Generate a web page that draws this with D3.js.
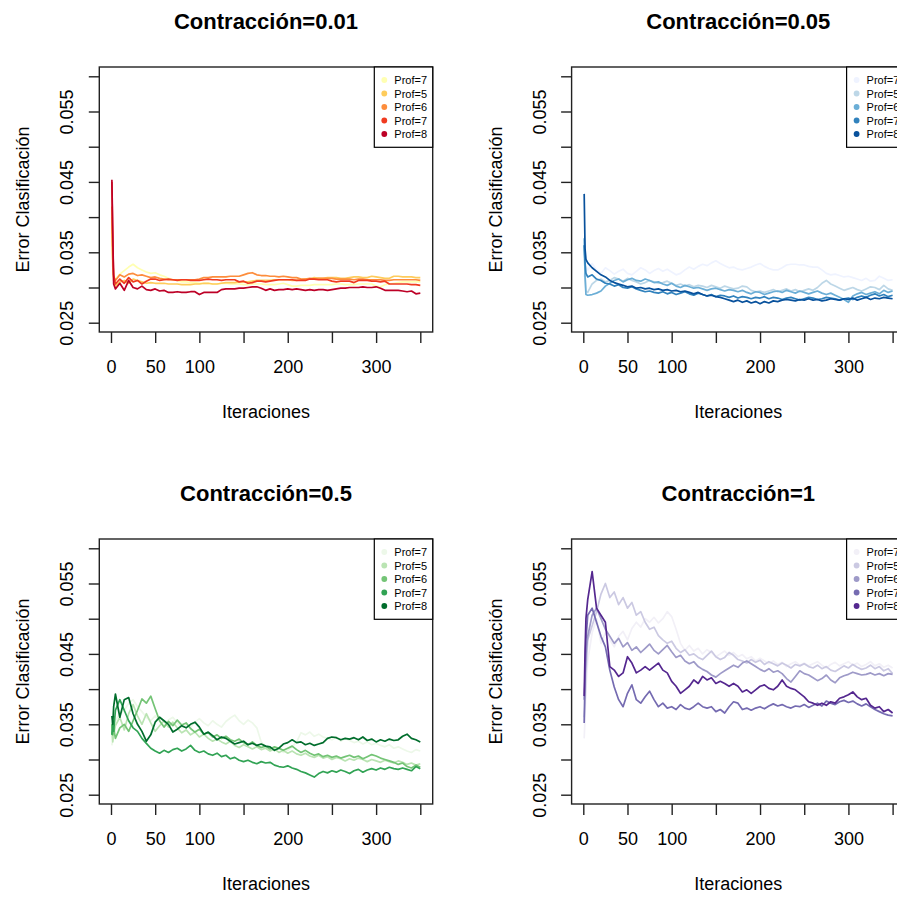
<!DOCTYPE html>
<html>
<head>
<meta charset="utf-8">
<script src="https://cdn.jsdelivr.net/npm/d3@7"></script>
<style>
  body { margin: 0; background: #fff; }
  svg { display: block; }
  text { font-family: "Liberation Sans", Arial, Helvetica, sans-serif; fill: #000; }
</style>
</head>
<body>
<svg id="chart" width="897" height="897"></svg>
<script>
// Iterations at which the classification error was recorded
const iteraciones = [
  1, 2, 3, 5, 10, 15, 20, 25, 30, 35,
  40, 45, 50, 55, 60, 65, 70, 75, 80, 85,
  90, 95, 100, 105, 110, 115, 120, 125, 130, 135,
  140, 145, 150, 155, 160, 165, 170, 175, 180, 185,
  190, 195, 200, 205, 210, 215, 220, 225, 230, 235,
  240, 245, 250, 255, 260, 265, 270, 275, 280, 285,
  290, 295, 300, 305, 310, 315, 320, 325, 330, 335,
  340, 345, 350
];

const legendLabels = ["Prof=7", "Prof=5", "Prof=6", "Prof=7", "Prof=8"];
const panelTitles = ["Contracción=0.01", "Contracción=0.05", "Contracción=0.5", "Contracción=1"];

// Contracción = 0.01
const error001 = [
  [0.0385,0.0340,0.0315,0.0312,0.0319,0.0324,0.0329,0.0333,0.0328,0.0325,
   0.0322,0.0320,0.0321,0.0318,0.0316,0.0313,0.0311,0.0310,0.0308,0.0308,
   0.0307,0.0307,0.0306,0.0306,0.0306,0.0305,0.0305,0.0306,0.0306,0.0305,
   0.0305,0.0305,0.0304,0.0304,0.0305,0.0305,0.0305,0.0304,0.0304,0.0304,
   0.0305,0.0306,0.0304,0.0302,0.0302,0.0303,0.0303,0.0303,0.0304,0.0304,
   0.0304,0.0304,0.0304,0.0305,0.0305,0.0304,0.0304,0.0304,0.0305,0.0305,
   0.0305,0.0305,0.0302,0.0301,0.0304,0.0305,0.0306,0.0307,0.0308,0.0308,
   0.0308,0.0308,0.0308],
  [0.0400,0.0330,0.0310,0.0302,0.0308,0.0310,0.0306,0.0312,0.0310,0.0308,
   0.0306,0.0307,0.0306,0.0306,0.0306,0.0305,0.0305,0.0305,0.0304,0.0304,
   0.0304,0.0305,0.0305,0.0306,0.0306,0.0305,0.0305,0.0306,0.0307,0.0307,
   0.0307,0.0308,0.0308,0.0308,0.0309,0.0310,0.0310,0.0310,0.0310,0.0311,
   0.0311,0.0311,0.0311,0.0310,0.0310,0.0311,0.0312,0.0312,0.0314,0.0313,
   0.0313,0.0314,0.0314,0.0314,0.0313,0.0313,0.0314,0.0315,0.0315,0.0314,
   0.0314,0.0316,0.0315,0.0314,0.0313,0.0313,0.0316,0.0316,0.0315,0.0315,
   0.0315,0.0314,0.0314],
  [0.0415,0.0340,0.0315,0.0310,0.0318,0.0315,0.0319,0.0320,0.0317,0.0318,
   0.0316,0.0314,0.0315,0.0313,0.0312,0.0311,0.0311,0.0311,0.0311,0.0311,
   0.0311,0.0311,0.0312,0.0314,0.0314,0.0315,0.0315,0.0315,0.0315,0.0316,
   0.0316,0.0316,0.0318,0.0320,0.0321,0.0318,0.0317,0.0317,0.0316,0.0316,
   0.0315,0.0316,0.0315,0.0314,0.0314,0.0312,0.0312,0.0313,0.0312,0.0313,
   0.0313,0.0313,0.0313,0.0312,0.0312,0.0312,0.0312,0.0311,0.0312,0.0312,
   0.0311,0.0311,0.0311,0.0311,0.0310,0.0310,0.0311,0.0311,0.0311,0.0311,
   0.0311,0.0311,0.0310],
  [0.0450,0.0360,0.0318,0.0305,0.0312,0.0306,0.0314,0.0308,0.0310,0.0305,
   0.0309,0.0312,0.0312,0.0310,0.0311,0.0312,0.0311,0.0310,0.0311,0.0311,
   0.0310,0.0310,0.0310,0.0311,0.0312,0.0311,0.0311,0.0310,0.0311,0.0311,
   0.0311,0.0308,0.0309,0.0306,0.0307,0.0309,0.0309,0.0308,0.0309,0.0310,
   0.0311,0.0311,0.0311,0.0311,0.0310,0.0310,0.0310,0.0312,0.0312,0.0311,
   0.0311,0.0311,0.0309,0.0308,0.0309,0.0309,0.0309,0.0307,0.0310,0.0310,
   0.0310,0.0309,0.0309,0.0308,0.0309,0.0305,0.0305,0.0305,0.0305,0.0305,
   0.0304,0.0304,0.0303],
  [0.0453,0.0380,0.0305,0.0298,0.0306,0.0296,0.0310,0.0300,0.0298,0.0302,
   0.0297,0.0296,0.0298,0.0295,0.0296,0.0293,0.0293,0.0294,0.0293,0.0293,
   0.0294,0.0294,0.0290,0.0293,0.0293,0.0293,0.0293,0.0297,0.0298,0.0298,
   0.0298,0.0299,0.0299,0.0300,0.0301,0.0301,0.0299,0.0296,0.0298,0.0296,
   0.0297,0.0297,0.0298,0.0297,0.0298,0.0297,0.0296,0.0297,0.0296,0.0297,
   0.0297,0.0296,0.0297,0.0298,0.0299,0.0299,0.0300,0.0300,0.0300,0.0301,
   0.0300,0.0300,0.0301,0.0299,0.0296,0.0296,0.0296,0.0296,0.0295,0.0294,
   0.0295,0.0291,0.0292]
];

// Contracción = 0.05
const error005 = [
  [0.0315,0.0325,0.0330,0.0325,0.0334,0.0325,0.0320,0.0328,0.0324,0.0319,
   0.0323,0.0326,0.0320,0.0318,0.0323,0.0328,0.0325,0.0320,0.0324,0.0327,
   0.0323,0.0326,0.0322,0.0318,0.0320,0.0325,0.0329,0.0326,0.0330,0.0333,
   0.0331,0.0335,0.0338,0.0334,0.0331,0.0328,0.0329,0.0326,0.0325,0.0327,
   0.0329,0.0332,0.0334,0.0330,0.0327,0.0325,0.0325,0.0328,0.0332,0.0333,
   0.0333,0.0332,0.0332,0.0330,0.0329,0.0329,0.0325,0.0320,0.0318,0.0319,
   0.0317,0.0315,0.0316,0.0314,0.0312,0.0310,0.0313,0.0309,0.0310,0.0316,
   0.0313,0.0310,0.0311],
  [0.0360,0.0320,0.0295,0.0293,0.0305,0.0310,0.0312,0.0308,0.0310,0.0314,
   0.0312,0.0309,0.0313,0.0310,0.0308,0.0305,0.0307,0.0310,0.0308,0.0306,
   0.0307,0.0309,0.0306,0.0303,0.0305,0.0302,0.0304,0.0301,0.0303,0.0302,
   0.0300,0.0303,0.0301,0.0299,0.0302,0.0300,0.0298,0.0299,0.0302,0.0301,
   0.0296,0.0294,0.0295,0.0293,0.0295,0.0297,0.0294,0.0296,0.0298,0.0295,
   0.0297,0.0294,0.0296,0.0298,0.0296,0.0300,0.0306,0.0310,0.0305,0.0302,
   0.0299,0.0296,0.0298,0.0300,0.0297,0.0295,0.0298,0.0301,0.0300,0.0297,
   0.0303,0.0298,0.0296],
  [0.0370,0.0315,0.0290,0.0289,0.0290,0.0292,0.0295,0.0302,0.0306,0.0310,
   0.0312,0.0308,0.0311,0.0313,0.0310,0.0309,0.0312,0.0310,0.0307,0.0308,
   0.0305,0.0303,0.0306,0.0302,0.0300,0.0303,0.0301,0.0299,0.0300,0.0298,
   0.0296,0.0298,0.0299,0.0297,0.0295,0.0297,0.0296,0.0294,0.0296,0.0293,
   0.0291,0.0294,0.0293,0.0290,0.0292,0.0294,0.0295,0.0293,0.0296,0.0294,
   0.0292,0.0295,0.0293,0.0291,0.0293,0.0295,0.0292,0.0290,0.0292,0.0289,
   0.0286,0.0283,0.0279,0.0288,0.0291,0.0293,0.0290,0.0292,0.0294,0.0291,
   0.0296,0.0293,0.0295],
  [0.0360,0.0335,0.0320,0.0315,0.0318,0.0312,0.0310,0.0306,0.0305,0.0302,
   0.0304,0.0300,0.0299,0.0301,0.0298,0.0296,0.0294,0.0295,0.0293,0.0292,
   0.0294,0.0291,0.0293,0.0290,0.0292,0.0294,0.0291,0.0289,0.0292,0.0290,
   0.0288,0.0290,0.0287,0.0289,0.0288,0.0286,0.0288,0.0285,0.0287,0.0286,
   0.0284,0.0286,0.0285,0.0287,0.0284,0.0286,0.0285,0.0283,0.0285,0.0286,
   0.0284,0.0282,0.0284,0.0286,0.0285,0.0283,0.0284,0.0286,0.0285,0.0284,
   0.0282,0.0284,0.0285,0.0283,0.0286,0.0288,0.0286,0.0289,0.0291,0.0288,
   0.0290,0.0287,0.0289],
  [0.0433,0.0355,0.0340,0.0335,0.0328,0.0323,0.0318,0.0315,0.0310,0.0307,
   0.0305,0.0303,0.0301,0.0302,0.0299,0.0300,0.0298,0.0299,0.0297,0.0298,
   0.0296,0.0297,0.0295,0.0296,0.0294,0.0295,0.0293,0.0291,0.0293,0.0290,
   0.0288,0.0289,0.0287,0.0286,0.0284,0.0282,0.0280,0.0282,0.0279,0.0281,
   0.0278,0.0280,0.0277,0.0280,0.0278,0.0281,0.0280,0.0282,0.0283,0.0282,
   0.0281,0.0283,0.0282,0.0284,0.0282,0.0283,0.0281,0.0282,0.0284,0.0283,
   0.0282,0.0284,0.0283,0.0285,0.0282,0.0284,0.0286,0.0283,0.0285,0.0284,
   0.0286,0.0285,0.0284]
];

// Contracción = 0.5
const error05 = [
  [0.0320,0.0330,0.0345,0.0355,0.0365,0.0370,0.0380,0.0385,0.0375,0.0368,
   0.0360,0.0355,0.0362,0.0354,0.0348,0.0356,0.0360,0.0352,0.0345,0.0350,
   0.0346,0.0353,0.0358,0.0352,0.0348,0.0355,0.0350,0.0346,0.0354,0.0359,
   0.0363,0.0355,0.0350,0.0356,0.0352,0.0345,0.0325,0.0318,0.0315,0.0312,
   0.0316,0.0310,0.0313,0.0318,0.0325,0.0338,0.0335,0.0339,0.0333,0.0336,
   0.0332,0.0330,0.0328,0.0332,0.0326,0.0330,0.0327,0.0324,0.0326,0.0322,
   0.0325,0.0321,0.0323,0.0320,0.0318,0.0321,0.0316,0.0318,0.0315,0.0312,
   0.0310,0.0314,0.0312],
  [0.0340,0.0325,0.0335,0.0348,0.0360,0.0342,0.0365,0.0378,0.0362,0.0350,
   0.0365,0.0352,0.0340,0.0348,0.0355,0.0346,0.0353,0.0345,0.0338,0.0342,
   0.0335,0.0339,0.0332,0.0336,0.0330,0.0326,0.0329,0.0325,0.0322,0.0326,
   0.0320,0.0317,0.0321,0.0318,0.0315,0.0318,0.0314,0.0316,0.0312,0.0315,
   0.0310,0.0313,0.0309,0.0312,0.0308,0.0306,0.0309,0.0305,0.0303,0.0306,
   0.0302,0.0304,0.0300,0.0303,0.0301,0.0298,0.0301,0.0299,0.0302,0.0300,
   0.0297,0.0300,0.0298,0.0296,0.0299,0.0297,0.0295,0.0298,0.0296,0.0293,
   0.0295,0.0292,0.0294],
  [0.0350,0.0335,0.0345,0.0330,0.0345,0.0350,0.0340,0.0355,0.0370,0.0386,
   0.0380,0.0390,0.0372,0.0355,0.0346,0.0354,0.0348,0.0356,0.0349,0.0352,
   0.0344,0.0339,0.0343,0.0336,0.0338,0.0332,0.0335,0.0330,0.0333,0.0328,
   0.0326,0.0329,0.0324,0.0321,0.0325,0.0320,0.0317,0.0319,0.0315,0.0318,
   0.0316,0.0313,0.0316,0.0319,0.0314,0.0310,0.0313,0.0309,0.0306,0.0308,
   0.0304,0.0306,0.0303,0.0305,0.0302,0.0304,0.0306,0.0303,0.0305,0.0301,
   0.0304,0.0307,0.0305,0.0302,0.0300,0.0298,0.0296,0.0293,0.0295,0.0290,
   0.0288,0.0292,0.0289],
  [0.0335,0.0355,0.0340,0.0370,0.0385,0.0370,0.0355,0.0345,0.0340,0.0330,
   0.0323,0.0316,0.0312,0.0309,0.0313,0.0310,0.0314,0.0316,0.0312,0.0315,
   0.0320,0.0313,0.0310,0.0312,0.0308,0.0306,0.0309,0.0304,0.0306,0.0301,
   0.0303,0.0299,0.0297,0.0299,0.0296,0.0294,0.0297,0.0295,0.0296,0.0292,
   0.0290,0.0289,0.0291,0.0288,0.0286,0.0283,0.0281,0.0278,0.0275,0.0280,
   0.0283,0.0281,0.0284,0.0282,0.0285,0.0283,0.0280,0.0284,0.0286,0.0282,
   0.0285,0.0287,0.0285,0.0288,0.0286,0.0289,0.0287,0.0286,0.0288,0.0286,
   0.0284,0.0290,0.0287],
  [0.0362,0.0350,0.0375,0.0393,0.0360,0.0385,0.0388,0.0365,0.0350,0.0340,
   0.0326,0.0335,0.0353,0.0360,0.0355,0.0350,0.0339,0.0343,0.0348,0.0345,
   0.0350,0.0353,0.0346,0.0336,0.0339,0.0334,0.0328,0.0332,0.0330,0.0326,
   0.0322,0.0324,0.0326,0.0321,0.0323,0.0320,0.0322,0.0319,0.0318,0.0313,
   0.0316,0.0322,0.0324,0.0328,0.0324,0.0325,0.0321,0.0323,0.0320,0.0322,
   0.0324,0.0330,0.0332,0.0331,0.0328,0.0330,0.0329,0.0331,0.0328,0.0332,
   0.0327,0.0329,0.0325,0.0328,0.0326,0.0329,0.0327,0.0328,0.0333,0.0336,
   0.0330,0.0328,0.0325]
];

// Contracción = 1
const error1 = [
  [0.0330,0.0360,0.0400,0.0440,0.0480,0.0500,0.0465,0.0480,0.0470,0.0460,
   0.0475,0.0482,0.0470,0.0486,0.0495,0.0488,0.0500,0.0495,0.0502,0.0494,
   0.0500,0.0510,0.0503,0.0485,0.0465,0.0455,0.0462,0.0454,0.0458,0.0450,
   0.0456,0.0452,0.0446,0.0450,0.0454,0.0448,0.0452,0.0446,0.0449,0.0443,
   0.0446,0.0440,0.0444,0.0440,0.0436,0.0440,0.0435,0.0438,0.0432,0.0436,
   0.0439,0.0434,0.0437,0.0433,0.0436,0.0439,0.0434,0.0430,0.0435,0.0438,
   0.0433,0.0436,0.0439,0.0434,0.0437,0.0432,0.0435,0.0439,0.0433,0.0436,
   0.0431,0.0434,0.0430],
  [0.0360,0.0380,0.0420,0.0470,0.0490,0.0510,0.0535,0.0550,0.0530,0.0538,
   0.0520,0.0530,0.0515,0.0523,0.0505,0.0510,0.0495,0.0485,0.0488,0.0476,
   0.0470,0.0465,0.0468,0.0458,0.0452,0.0456,0.0448,0.0450,0.0445,0.0442,
   0.0448,0.0454,0.0446,0.0442,0.0445,0.0452,0.0448,0.0442,0.0440,0.0437,
   0.0442,0.0438,0.0441,0.0435,0.0439,0.0436,0.0433,0.0437,0.0434,0.0430,
   0.0435,0.0433,0.0436,0.0432,0.0430,0.0434,0.0429,0.0432,0.0427,0.0425,
   0.0429,0.0433,0.0430,0.0435,0.0431,0.0428,0.0430,0.0434,0.0429,0.0432,
   0.0426,0.0429,0.0422],
  [0.0385,0.0420,0.0450,0.0475,0.0505,0.0515,0.0500,0.0485,0.0475,0.0465,
   0.0472,0.0460,0.0466,0.0455,0.0460,0.0452,0.0458,0.0464,0.0455,0.0450,
   0.0456,0.0462,0.0453,0.0445,0.0448,0.0440,0.0436,0.0439,0.0432,0.0428,
   0.0425,0.0420,0.0417,0.0422,0.0426,0.0430,0.0434,0.0431,0.0437,0.0440,
   0.0436,0.0432,0.0428,0.0425,0.0429,0.0424,0.0426,0.0422,0.0415,0.0410,
   0.0418,0.0426,0.0422,0.0420,0.0416,0.0412,0.0415,0.0420,0.0413,0.0409,
   0.0416,0.0419,0.0421,0.0424,0.0422,0.0420,0.0421,0.0423,0.0420,0.0422,
   0.0419,0.0422,0.0421],
  [0.0352,0.0420,0.0470,0.0505,0.0515,0.0495,0.0475,0.0460,0.0427,0.0403,
   0.0385,0.0375,0.0394,0.0406,0.0385,0.0380,0.0389,0.0397,0.0385,0.0375,
   0.0380,0.0373,0.0375,0.0371,0.0378,0.0373,0.0371,0.0375,0.0380,0.0375,
   0.0373,0.0375,0.0368,0.0371,0.0366,0.0375,0.0382,0.0380,0.0371,0.0373,
   0.0370,0.0373,0.0375,0.0372,0.0376,0.0379,0.0376,0.0378,0.0375,0.0373,
   0.0376,0.0375,0.0378,0.0374,0.0377,0.0380,0.0376,0.0383,0.0380,0.0378,
   0.0382,0.0384,0.0381,0.0383,0.0379,0.0376,0.0379,0.0375,0.0371,0.0368,
   0.0365,0.0363,0.0362],
  [0.0390,0.0455,0.0500,0.0527,0.0567,0.0515,0.0505,0.0495,0.0432,0.0427,
   0.0418,0.0423,0.0446,0.0437,0.0423,0.0427,0.0432,0.0427,0.0432,0.0437,
   0.0427,0.0423,0.0411,0.0404,0.0394,0.0399,0.0404,0.0413,0.0408,0.0418,
   0.0413,0.0416,0.0408,0.0411,0.0408,0.0404,0.0408,0.0404,0.0396,0.0399,
   0.0394,0.0399,0.0404,0.0406,0.0401,0.0399,0.0404,0.0413,0.0404,0.0401,
   0.0399,0.0394,0.0389,0.0382,0.0380,0.0377,0.0380,0.0377,0.0382,0.0380,
   0.0387,0.0389,0.0392,0.0396,0.0389,0.0385,0.0387,0.0377,0.0373,0.0375,
   0.0368,0.0371,0.0366]
];

// Colour ramps (RColorBrewer, 5 classes), lightest to darkest
const paletteYlOrRd = ["#FFFFB2", "#FECC5C", "#FD8D3C", "#F03B20", "#BD0026"];
const paletteBlues = ["#EFF3FF", "#BDD7E7", "#6BAED6", "#3182BD", "#08519C"];
const paletteGreens = ["#EDF8E9", "#BAE4B3", "#74C476", "#31A354", "#006D2C"];
const palettePurples = ["#F2F0F7", "#CBC9E2", "#9E9AC8", "#756BB1", "#54278F"];

// Axis ticks; R drops the labels that would overlap
const xTicks = [0, 50, 100, 150, 200, 250, 300, 350];
const xTickLabels = ["0", "50", "100", "", "200", "", "300", ""];
const yTicks = [0.025, 0.030, 0.035, 0.040, 0.045, 0.050, 0.055, 0.060];
const yTickLabels = ["0.025", "", "0.035", "", "0.045", "", "0.055", ""];

const panels = [
  { title: panelTitles[0], values: error001, colors: paletteYlOrRd },
  { title: panelTitles[1], values: error005, colors: paletteBlues },
  { title: panelTitles[2], values: error05, colors: paletteGreens },
  { title: panelTitles[3], values: error1, colors: palettePurples }
];

const svg = d3.select("#chart");
const colStep = 472.3, rowStep = 472;
const box = { left: 99.3, right: 432.7, top: 67, bottom: 332 };
const cx = (box.left + box.right) / 2;
const cy = (box.top + box.bottom) / 2;

const x = d3.scaleLinear().domain([0, 350]).range([111, 420.3]);
const y = d3.scaleLinear().domain([0.025, 0.060]).range([322.7, 76.3]);

svg.append("defs").append("clipPath").attr("id", "plotClip")
  .append("rect")
  .attr("x", box.left).attr("y", box.top)
  .attr("width", box.right - box.left).attr("height", box.bottom - box.top);

const line = d3.line()
  .x((d, i) => x(iteraciones[i]))
  .y(d => y(d));

panels.forEach((p, k) => {
  const g = svg.append("g")
    .attr("transform", `translate(${(k % 2) * colStep},${Math.floor(k / 2) * rowStep})`);

  // series, lightest first so the darker ones sit on top
  const plot = g.append("g").attr("clip-path", "url(#plotClip)");
  p.values.forEach((serie, s) => {
    plot.append("path")
      .attr("d", line(serie))
      .attr("fill", "none")
      .attr("stroke", p.colors[s])
      .attr("stroke-width", 1.7)
      .attr("stroke-linejoin", "round");
  });

  // frame
  g.append("rect")
    .attr("x", box.left).attr("y", box.top)
    .attr("width", box.right - box.left).attr("height", box.bottom - box.top)
    .attr("fill", "none").attr("stroke", "#222").attr("stroke-width", 1.4);

  // x axis
  const xa = g.append("g").attr("transform", `translate(0,${box.bottom})`)
    .call(d3.axisBottom(x).tickValues(xTicks).tickSize(11).tickSizeOuter(0)
      .tickFormat((d, i) => xTickLabels[i]));
  xa.select(".domain").remove();
  xa.selectAll(".tick line").attr("stroke", "#222").attr("stroke-width", 1.4);
  xa.selectAll(".tick text")
    .attr("y", 41).attr("dy", null)
    .attr("font-size", 18).attr("fill", "#000");

  // y axis, labels parallel to the axis
  const ya = g.append("g").attr("transform", `translate(${box.left},0)`)
    .call(d3.axisLeft(y).tickValues(yTicks).tickSize(10.5).tickSizeOuter(0)
      .tickFormat((d, i) => yTickLabels[i]));
  ya.select(".domain").remove();
  ya.selectAll(".tick line").attr("stroke", "#222").attr("stroke-width", 1.4);
  ya.selectAll(".tick text")
    .attr("x", 0).attr("y", 0).attr("dy", null)
    .attr("text-anchor", "middle")
    .attr("transform", "translate(-26,0) rotate(-90)")
    .attr("font-size", 18).attr("fill", "#000");

  // title and axis titles
  g.append("text")
    .attr("x", cx).attr("y", 29.3)
    .attr("text-anchor", "middle")
    .attr("font-size", 22).attr("font-weight", "bold")
    .text(p.title);

  g.append("text")
    .attr("x", cx).attr("y", 418.3)
    .attr("text-anchor", "middle")
    .attr("font-size", 18)
    .text("Iteraciones");

  g.append("text")
    .attr("transform", `translate(29.3,${cy}) rotate(-90)`)
    .attr("text-anchor", "middle")
    .attr("font-size", 18)
    .text("Error Clasificación");

  // legend in the top-right corner
  const lg = g.append("g");
  lg.append("rect")
    .attr("x", 374.3).attr("y", box.top)
    .attr("width", box.right - 374.3).attr("height", 80.3)
    .attr("fill", "#fff").attr("stroke", "#000").attr("stroke-width", 1.2);
  legendLabels.forEach((lab, s) => {
    const ry = 80 + s * 13.5;
    lg.append("circle")
      .attr("cx", 384.3).attr("cy", ry).attr("r", 2.9)
      .attr("fill", p.colors[s]);
    lg.append("text")
      .attr("x", 394.3).attr("y", ry)
      .attr("dominant-baseline", "central")
      .attr("font-size", 11)
      .text(lab);
  });
});
</script>
</body>
</html>
